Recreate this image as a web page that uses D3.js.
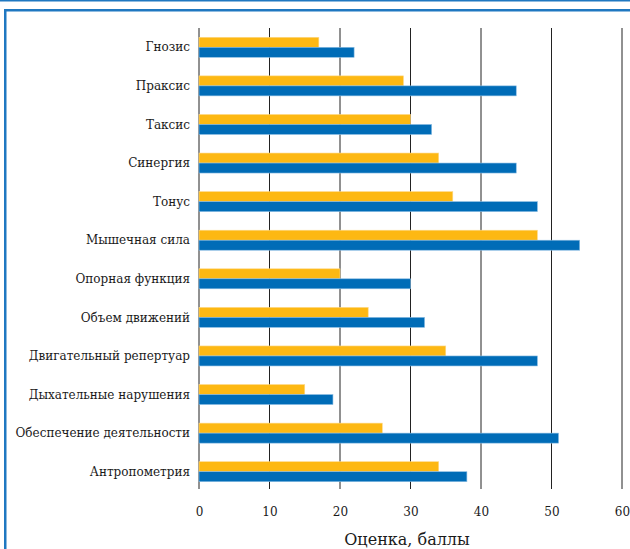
<!DOCTYPE html>
<html>
<head>
<meta charset="utf-8">
<script src="https://cdn.jsdelivr.net/npm/d3@7"></script>
<style>
  html, body { margin: 0; padding: 0; background: #fff; }
  svg { display: block; }
</style>
</head>
<body>
<svg id="chart" width="630" height="549"></svg>
<script>
// Motor-function assessment scores, two groups per category
const categories = [
  "Гнозис", "Праксис", "Таксис", "Синергия", "Тонус", "Мышечная сила",
  "Опорная функция", "Объем движений", "Двигательный репертуар",
  "Дыхательные нарушения", "Обеспечение деятельности", "Антропометрия"
];
const seriesOrange = [17, 29, 30, 34, 36, 48, 20, 24, 35, 15, 26, 34];
const seriesBlue   = [22, 45, 33, 45, 48, 54, 30, 32, 48, 19, 51, 38];
const xTicks = [0, 10, 20, 30, 40, 50, 60];
const xTitle = "Оценка, баллы";

const svg = d3.select("#chart");
const font = "'DejaVu Serif', serif";

// frame lines
svg.append("rect").attr("x", 0).attr("y", 0).attr("width", 630).attr("height", 1.5)
  .attr("fill", "#1f78c1");
svg.append("rect").attr("x", 4).attr("y", 9).attr("width", 626).attr("height", 2.5)
  .attr("fill", "#1f78c1");
svg.append("rect").attr("x", 4).attr("y", 9).attr("width", 2.5).attr("height", 540)
  .attr("fill", "#1f78c1");

const x = d3.scaleLinear().domain([0, 60]).range([199, 622]);
const y = d3.scaleBand().domain(categories).range([28, 491]).paddingInner(0).paddingOuter(0);
const barH = 10;

// vertical grid lines
svg.append("g").selectAll("line").data(xTicks).join("line")
  .attr("x1", d => x(d)).attr("x2", d => x(d))
  .attr("y1", 28).attr("y2", 489)
  .attr("stroke", "#222").attr("stroke-width", 1);

const rows = categories.map((c, i) => ({ c, o: seriesOrange[i], b: seriesBlue[i] }));

const bars = svg.append("g");
bars.selectAll("rect.o").data(rows).join("rect").attr("class", "o")
  .attr("x", x(0)).attr("y", d => y(d.c) + y.bandwidth() / 2 - barH)
  .attr("width", d => x(d.o) - x(0)).attr("height", barH)
  .attr("fill", "#fdb813").attr("stroke", "#fdd98a").attr("stroke-width", 0.6);
bars.selectAll("rect.b").data(rows).join("rect").attr("class", "b")
  .attr("x", x(0)).attr("y", d => y(d.c) + y.bandwidth() / 2)
  .attr("width", d => x(d.b) - x(0)).attr("height", barH)
  .attr("fill", "#006cb7").attr("stroke", "#8bbde3").attr("stroke-width", 0.6);

// category labels
svg.append("g").selectAll("text").data(categories).join("text")
  .attr("x", 190).attr("y", d => y(d) + y.bandwidth() / 2)
  .attr("dy", "0.35em").attr("text-anchor", "end")
  .attr("font-family", font).attr("font-size", 12).attr("fill", "#1a1a1a")
  .text(d => d);

// x axis tick labels
const xAxis = d3.axisBottom(x).tickValues(xTicks).tickSize(0).tickPadding(0);
const ax = svg.append("g").attr("transform", "translate(0,507)").call(xAxis);
ax.select(".domain").remove();
ax.selectAll("text").attr("font-family", font).attr("font-size", 12).attr("fill", "#1a1a1a");

svg.append("text").attr("x", 407).attr("y", 545).attr("text-anchor", "middle")
  .attr("font-family", font).attr("font-size", 16).attr("fill", "#1a1a1a")
  .text(xTitle);
</script>
</body>
</html>
